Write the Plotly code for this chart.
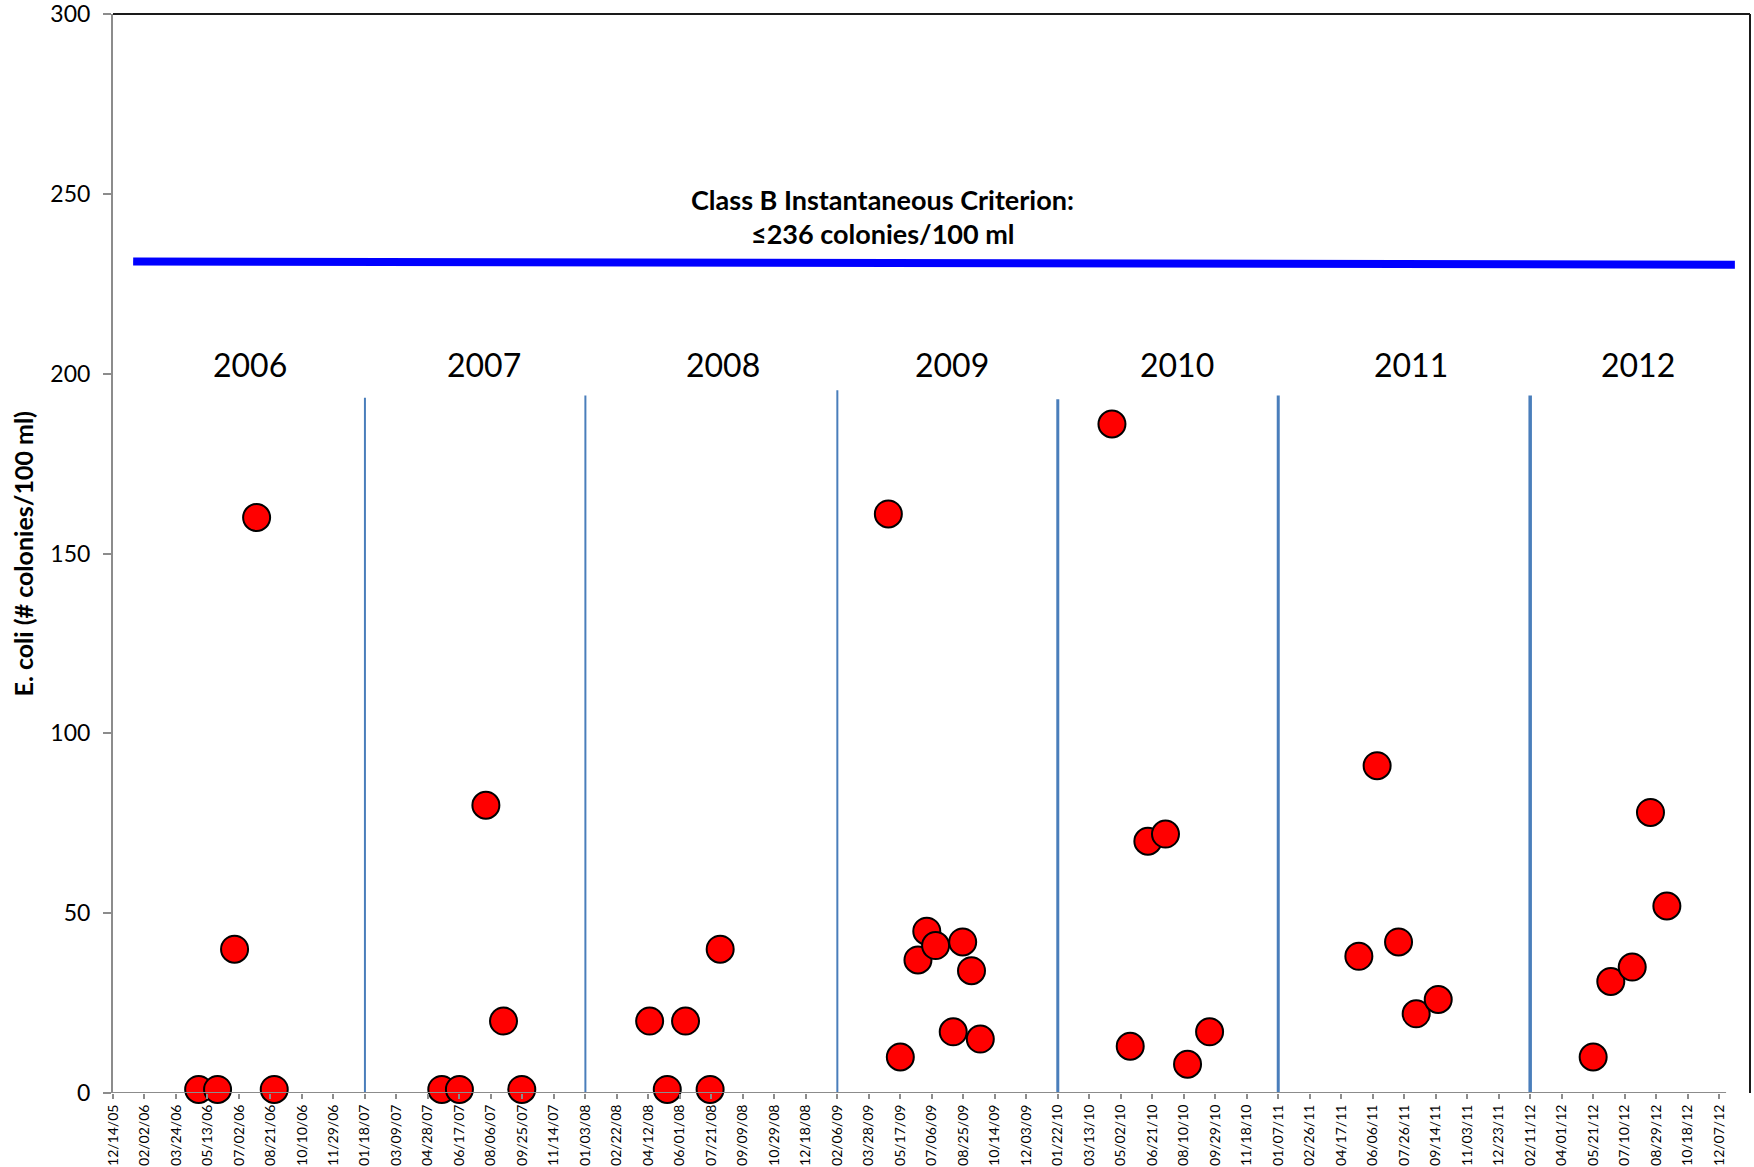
import pandas as pd
import plotly.graph_objects as go

# sample dates and E. coli counts (# colonies/100 ml)
sample_dates = ["2006-04-29", "2006-05-29", "2006-06-25", "2006-07-30", "2006-08-27",
                "2007-05-20", "2007-06-17", "2007-07-29", "2007-08-26", "2007-09-24",
                "2008-04-14", "2008-05-12", "2008-06-10", "2008-07-19", "2008-08-04",
                "2009-04-28", "2009-05-17", "2009-06-14", "2009-06-28", "2009-07-12",
                "2009-08-09", "2009-08-24", "2009-09-07", "2009-09-21",
                "2010-04-18", "2010-05-17", "2010-06-14", "2010-07-12", "2010-08-16", "2010-09-20",
                "2011-05-15", "2011-06-13", "2011-07-17", "2011-08-14", "2011-09-18",
                "2012-05-21", "2012-06-18", "2012-07-22", "2012-08-20", "2012-09-15"]
ecoli = [1, 1, 40, 160, 1,
         1, 1, 80, 20, 1,
         20, 1, 20, 1, 40,
         161, 10, 37, 45, 41, 17, 42, 34, 15,
         186, 13, 70, 72, 8, 17,
         38, 91, 42, 22, 26,
         10, 31, 35, 78, 52]

# year labels and separators
years = ["2006", "2007", "2008", "2009", "2010", "2011", "2012"]
year_label_dates = ["2006-07-20", "2007-07-26", "2008-08-09", "2009-08-07",
                    "2010-07-31", "2011-08-05", "2012-07-31"]
year_label_y = 202.6
sep_dates = ["2007-01-18", "2008-01-03", "2009-02-06", "2010-01-22", "2011-01-07", "2012-02-11"]
sep_tops = [193.3, 193.9, 195.4, 192.9, 193.9, 193.9]
sep_widths = [2, 2, 2, 3, 3, 3.5]

# criterion line (drawn a bit under 236 in the original)
crit_x = ["2006-01-15", "2013-01-01"]
crit_y = [231.2, 230.3]
crit_text = ["Class B Instantaneous Criterion:", "≤236 colonies/100 ml"]

tick_dates = pd.date_range("2005-12-14", "2012-12-07", freq="50D")
x_start, x_end = "2005-12-14", "2013-01-25"
axis_end = "2012-12-18"

FONT = "Lato"
GRAY = "#8c8c8c"
SEP_COLOR = "#4a7ebb"

fig = go.Figure()

fig.add_trace(go.Scatter(x=sample_dates, y=ecoli, mode="markers",
                         marker=dict(color="#ff0000", size=27,
                                     line=dict(color="black", width=2)),
                         cliponaxis=False, showlegend=False))

shapes = []
# year separators
for d, top, w in zip(sep_dates, sep_tops, sep_widths):
    shapes.append(dict(type="line", xref="x", yref="y", x0=d, x1=d, y0=0, y1=top,
                       line=dict(color=SEP_COLOR, width=w)))
# criterion
shapes.append(dict(type="line", xref="x", yref="y", x0=crit_x[0], x1=crit_x[1],
                   y0=crit_y[0], y1=crit_y[1], line=dict(color="#0000ff", width=8)))
# x axis line (ends before the plot frame like in excel)
shapes.append(dict(type="line", xref="x", yref="y", x0=x_start, x1=axis_end, y0=0, y1=0,
                   line=dict(color=GRAY, width=2)))
# frame top / right
shapes.append(dict(type="line", xref="paper", yref="paper", x0=0, x1=1, y0=1, y1=1,
                   line=dict(color="#1a1a1a", width=2)))
shapes.append(dict(type="line", xref="paper", yref="paper", x0=1, x1=1, y0=0, y1=1,
                   line=dict(color="#1a1a1a", width=2)))

annotations = []
for yr, d in zip(years, year_label_dates):
    annotations.append(dict(x=d, y=year_label_y, xref="x", yref="y", text=yr,
                            showarrow=False, font=dict(family=FONT, size=32, color="black")))
annotations.append(dict(x="2009-04-19", y=248.3, xref="x", yref="y", text="<b>" + crit_text[0] + "</b>",
                        showarrow=False, font=dict(family=FONT, size=27, color="black")))
annotations.append(dict(x="2009-04-19", y=239.1, xref="x", yref="y", text="<b>" + crit_text[1] + "</b>",
                        showarrow=False, font=dict(family=FONT, size=27, color="black")))
annotations.append(dict(x=-0.055, y=0.5, xref="paper", yref="paper", textangle=-90,
                        text="<b>E. coli (# colonies/100 ml)</b>", showarrow=False,
                        xanchor="center", yanchor="middle",
                        font=dict(family=FONT, size=25, color="black")))

fig.update_layout(
    width=1754, height=1167,
    margin=dict(l=113, r=4, t=14, b=74),
    plot_bgcolor="white", paper_bgcolor="white",
    font=dict(family=FONT, color="black"),
    shapes=shapes, annotations=annotations,
    showlegend=False,
)

fig.update_xaxes(type="date", range=[x_start, x_end], showgrid=False, zeroline=False,
                 showline=False, tickvals=tick_dates, tickformat="%m/%d/%y",
                 tickangle=-90, ticks="outside", ticklen=5, tickcolor=GRAY, tickwidth=2,
                 tickfont=dict(family=FONT, size=14, color="black"),
                 ticklabeloverflow="allow", automargin=False)
fig.update_yaxes(range=[0, 300], dtick=50, showgrid=False, zeroline=False,
                 showline=True, linecolor=GRAY, linewidth=2,
                 ticks="outside", ticklen=8, tickcolor=GRAY, tickwidth=2,
                 ticklabelstandoff=8, ticklabeloverflow="allow",
                 tickfont=dict(family=FONT, size=23, color="black"), automargin=False)

# no default body margin, so the figure sits at the window's top-left corner
fig.write_html("out.html", config={"displayModeBar": False},
               post_script="document.body.style.margin='0';")
